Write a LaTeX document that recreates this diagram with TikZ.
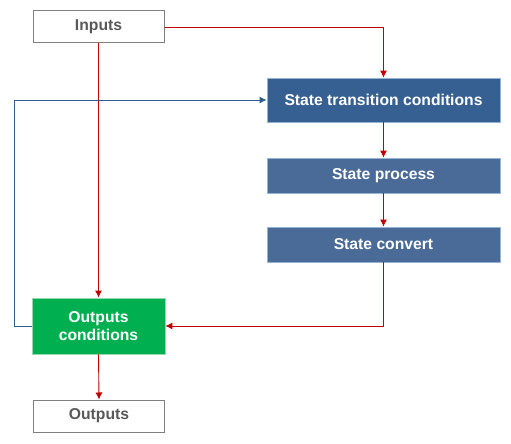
\documentclass[tikz,border=0pt]{standalone}
\usepackage{fontspec}
\setmainfont{Liberation Sans}
\usetikzlibrary{arrows.meta}
\definecolor{boxgray}{HTML}{7F7F7F}
\definecolor{txtgray}{HTML}{595959}
\definecolor{blueA}{HTML}{376092}
\definecolor{blueB}{HTML}{4A6B98}
\definecolor{bordB}{HTML}{95B3D7}
\definecolor{greenA}{HTML}{00B050}
\definecolor{bordG}{HTML}{92D9B0}
\definecolor{redline}{HTML}{C00000}
\definecolor{blueline}{HTML}{2F5D8F}
\tikzset{
  lbl/.style={font=\bfseries\fontsize{15.7}{18}\selectfont, align=center},
  whitebox/.style={draw=boxgray, line width=1pt, fill=white, text=txtgray, lbl, minimum width=131pt, inner sep=0pt},
  bluebox/.style={draw=bordB, line width=0.8pt, text=white, lbl, minimum width=233pt, inner sep=0pt},
  greenbox/.style={draw=bordG, line width=0.8pt, fill=greenA, text=white, lbl, minimum width=133pt, inner sep=0pt},
  redarr/.style={draw=redline, line width=0.9pt, -{Latex[length=7pt,width=7pt]}},
  bluearr/.style={draw=blueline, line width=0.9pt, -{Latex[length=7pt,width=7pt]}}
}
\begin{document}
\begin{tikzpicture}[x=1pt,y=-1pt]
\useasboundingbox (0,0) rectangle (511,444);
\node[whitebox, minimum height=32pt] (in) at (98.5,27) {Inputs};
\node[bluebox, fill=blueA, minimum height=44pt] (stc) at (383.5,100) {State transition conditions};
\node[bluebox, fill=blueB, minimum height=35pt] (sp) at (383.5,175.5) {State process};
\node[bluebox, fill=blueB, minimum height=35pt] (sc) at (383.5,244.5) {State convert};
\node[greenbox, minimum height=56pt] (oc) at (98.5,326) {Outputs\\conditions};
\node[whitebox, minimum height=32pt] (out) at (99,416) {Outputs};
\coordinate (c1) at (383.5,27);
\coordinate (c2) at (383.5,326);
\coordinate (c3) at (14,326);
\coordinate (c4) at (14,100);
\draw[redarr] (in.east) -- (c1) -- (stc.north);
\draw[redarr] (in.south) -- (oc.north);
\draw[redarr] (stc.south) -- (sp.north);
\draw[redarr] (sp.south) -- (sc.north);
\draw[redarr] (sc.south) -- (c2) -- (oc.east);
\draw[bluearr] (oc.west) -- (c3) -- (c4) -- (stc.west);
\draw[redarr] (oc.south) -- (out.north);
\end{tikzpicture}
\end{document}
